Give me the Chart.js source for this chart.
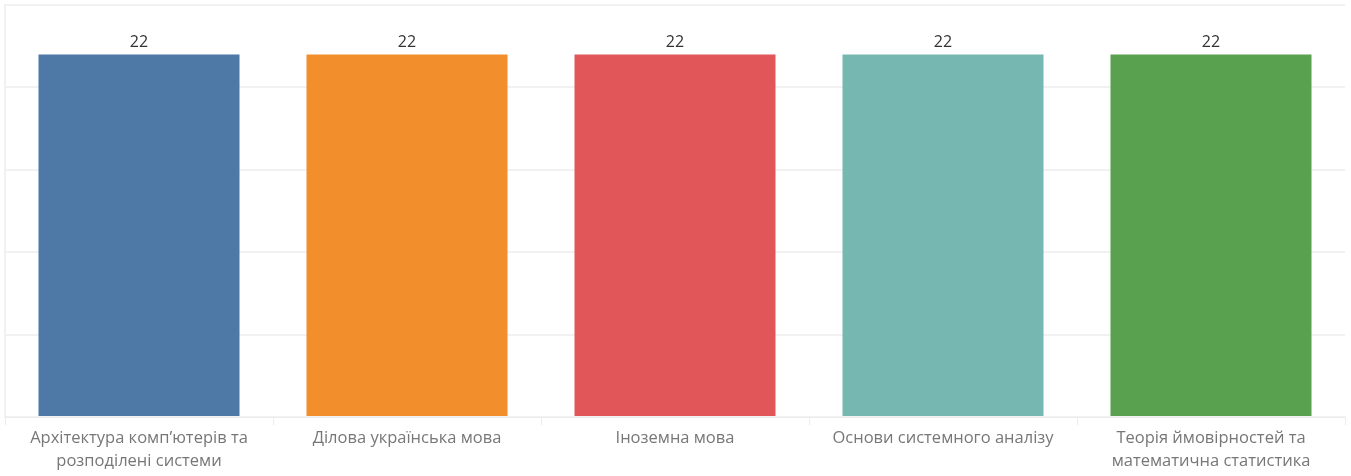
<!DOCTYPE html>
<html>
<head>
  <meta charset="UTF-8">
  <title>Предмети</title>
  <script src="https://cdn.jsdelivr.net/npm/chart.js"></script>
  <style>
    html, body { margin: 0; padding: 0; background: #fff; }
    #wrap { width: 1351px; height: 476px; }
  </style>
</head>
<body>
  <div id="wrap"><canvas id="myChart"></canvas></div>

  <script>
    const labels = [
      ['Архітектура комп\u2019ютерів та', 'розподілені системи'],
      'Ділова українська мова',
      'Іноземна мова',
      'Основи системного аналізу',
      ['Теорія ймовірностей та', 'математична статистика']
    ];
    const values = [22, 22, 22, 22, 22];
    const colors = ['#4e79a7', '#f28e2b', '#e15759', '#76b7b2', '#59a14f'];

    // подписи значень над стовпцями
    const valueLabels = {
      id: 'valueLabels',
      afterDatasetsDraw(chart) {
        const ctx = chart.ctx;
        ctx.save();
        ctx.font = '16px "Open Sans"';
        ctx.fillStyle = '#333';
        ctx.textAlign = 'center';
        ctx.textBaseline = 'bottom';
        chart.getDatasetMeta(0).data.forEach((bar, i) => {
          ctx.fillText(values[i], bar.x, bar.y - 4);
        });
        ctx.restore();
      }
    };

    new Chart(document.getElementById('myChart'), {
      type: 'bar',
      data: {
        labels: labels,
        datasets: [{
          data: values,
          backgroundColor: colors,
          barPercentage: 0.75,
          categoryPercentage: 1
        }]
      },
      options: {
        responsive: true,
        maintainAspectRatio: false,
        animation: false,
        layout: { padding: { left: 5, right: 6, top: 5, bottom: 0 } },
        plugins: {
          legend: { display: false },
          tooltip: { enabled: false }
        },
        scales: {
          x: {
            offset: true,
            grid: {
              offset: true,
              drawOnChartArea: false,
              color: '#ececec',
              tickLength: 8
            },
            border: { color: '#ececec' },
            ticks: {
              color: '#777',
              font: { family: 'Open Sans', size: 16.5, lineHeight: 1.4 },
              padding: 2,
              maxRotation: 0,
              autoSkip: false
            },
            afterFit(scale) { scale.height = 59; }
          },
          y: {
            min: 0,
            max: 25,
            ticks: { display: false, stepSize: 5 },
            grid: { color: '#f1f1f1', lineWidth: 2, drawTicks: false },
            border: { display: true, color: '#f1f1f1', width: 2 },
            afterFit(scale) { scale.width = 0; }
          }
        }
      },
      plugins: [valueLabels]
    });
  </script>
</body>
</html>
